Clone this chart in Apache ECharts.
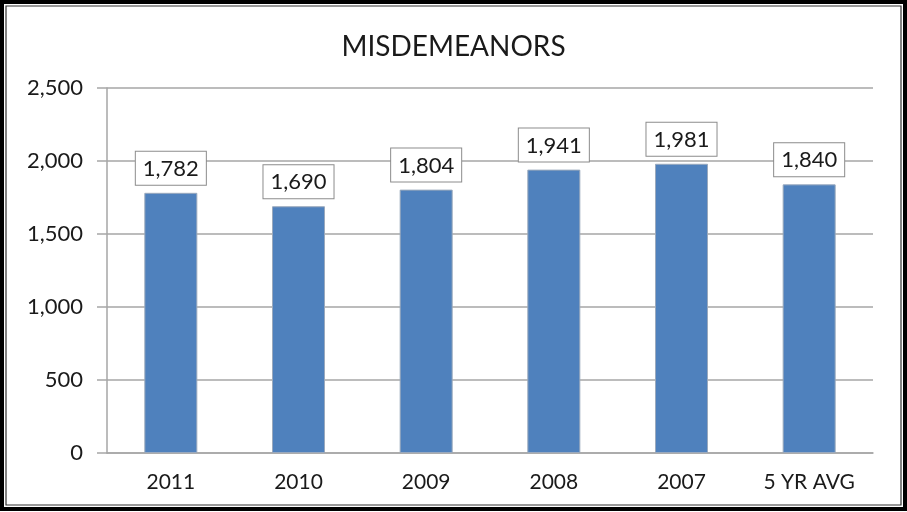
<!DOCTYPE html>
<html>
<head>
<meta charset="utf-8">
<script src="https://cdn.jsdelivr.net/npm/echarts@6/dist/echarts.min.js"></script>
<style>
html,body{margin:0;padding:0;background:#fff;}
#main{width:907px;height:512px;}
</style>
</head>
<body>
<div id="main"></div>
<script>
// categories and values
var categories=['2011','2010','2009','2008','2007','5 YR AVG'];
var counts=[1782,1690,1804,1941,1981,1840];
var chartTitle='MISDEMEANORS';

var myChart=echarts.init(document.getElementById('main'));
var font='Lato';

var option={
    animation:false,
    title:{
        text:chartTitle,
        left:'center',
        top:28,
        textStyle:{fontFamily:font,fontSize:28,fontWeight:'normal',color:'#1a1a1a'}
    },
    grid:{left:107,right:34,top:88,bottom:59},
    graphic:[{
        type:'rect',
        shape:{x:2,y:2,width:903,height:507},
        style:{fill:'none',stroke:'#000',lineWidth:4}
    },{
        type:'rect',
        shape:{x:6,y:6,width:895,height:499},
        style:{fill:'none',stroke:'#333',lineWidth:1.2}
    }],
    xAxis:{
        type:'category',
        data:categories,
        axisLine:{lineStyle:{color:'#a6a6a6',width:1.5}},
        axisTick:{show:false},
        axisLabel:{fontFamily:font,fontSize:21,color:'#1a1a1a',margin:19}
    },
    yAxis:{
        type:'value',
        min:0,max:2500,interval:500,
        axisLine:{show:true,lineStyle:{color:'#a6a6a6',width:1.5}},
        axisTick:{show:true,length:10,lineStyle:{color:'#a6a6a6',width:1.5}},
        splitLine:{lineStyle:{color:'#a6a6a6',width:1.5}},
        axisLabel:{
            fontFamily:font,fontSize:22,color:'#1a1a1a',margin:24,
            formatter:function(v){return v.toLocaleString('en-US');}
        }
    },
    series:[{
        type:'bar',
        data:counts,
        barWidth:53,
        itemStyle:{color:'#4f81bd',borderColor:'#9aa9bd',borderWidth:1},
        label:{
            show:true,
            position:'top',
            distance:8,
            fontFamily:font,fontSize:22,color:'#1a1a1a',
            backgroundColor:'#fff',
            borderColor:'#8c8c8c',borderWidth:1,
            padding:[6,7,5,7],
            formatter:function(p){return p.value.toLocaleString('en-US');}
        }
    }]
};

myChart.setOption(option);
</script>
</body>
</html>
